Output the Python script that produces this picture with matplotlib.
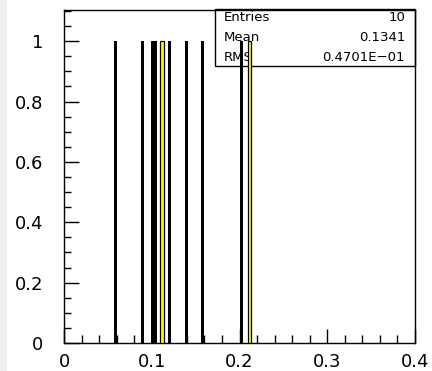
import matplotlib
matplotlib.use("Agg")
import matplotlib.pyplot as plt
from matplotlib.patches import Rectangle
from matplotlib.ticker import MultipleLocator

# Data
bin_centers = [0.0586, 0.0895, 0.1010, 0.1047, 0.1114, 0.1200, 0.1400, 0.1574, 0.2023, 0.2114]
bin_counts = [1, 1, 1, 1, 1, 1, 1, 1, 1, 1]
highlighted = [False, False, False, False, True, False, False, False, False, True]

stats_labels = ["Entries", "Mean", "RMS"]
stats_values = ["10", "0.1341", "0.4701E\u221201"]

x_ticks = [0, 0.1, 0.2, 0.3, 0.4]
x_tick_labels = ["0", "0.1", "0.2", "0.3", "0.4"]
y_ticks = [0, 0.2, 0.4, 0.6, 0.8, 1.0]
y_tick_labels = ["0", "0.2", "0.4", "0.6", "0.8", "1"]

plt.rcParams['font.family'] = ['DejaVu Sans']

W, H = 432, 371
fig = plt.figure(figsize=(W / 100, H / 100), dpi=100)
fig.patch.set_facecolor("white")
# light grey strip on the left edge
fig.patches.append(Rectangle((0, 0), 7 / W, 1, transform=fig.transFigure,
                             facecolor="#efeeec", edgecolor="none", zorder=0))

ax = fig.add_axes([64 / W, (H - 343) / H, (415 - 64) / W, (343 - 9.5) / H])

for c, n, hl in zip(bin_centers, bin_counts, highlighted):
    if hl:
        ax.bar(c, n, width=0.0042, color="#ffff00", edgecolor="black",
               linewidth=0.9, zorder=4)
    else:
        ax.bar(c, n, width=0.0036, color="black", edgecolor="none", zorder=3)

ax.set_xlim(0, 0.4)
ax.set_ylim(0, 1.105)

ax.set_xticks(x_ticks)
ax.set_xticklabels(x_tick_labels)
ax.set_yticks(y_ticks)
ax.set_yticklabels(y_tick_labels)
ax.xaxis.set_minor_locator(MultipleLocator(0.02))
ax.yaxis.set_minor_locator(MultipleLocator(0.05))

ax.tick_params(axis="x", which="major", direction="in", length=10, width=1.0,
               labelsize=13, pad=7, top=False)
ax.tick_params(axis="x", which="minor", direction="in", length=5.8, width=1.0, top=False)
ax.tick_params(axis="y", which="major", direction="in", length=10.5, width=1.0,
               labelsize=13, pad=15, right=False)
ax.tick_params(axis="y", which="minor", direction="in", length=5, width=1.0, right=False)

for s in ax.spines.values():
    s.set_linewidth(1.0)
    s.set_color("black")

# stats box (drawn beneath the bars, as in the reference)
bx0, bx1 = 215 / W, 415 / W
by1, by0 = (H - 9.5) / H, (H - 65.7) / H
ax.add_patch(Rectangle((bx0, by0), bx1 - bx0, by1 - by0, transform=fig.transFigure,
                       facecolor="white", edgecolor="black", linewidth=1.0, zorder=1.5,
                       clip_on=False))
row_y = [17.5, 37.5, 57.5]
for lab, val, yy in zip(stats_labels, stats_values, row_y):
    ax.text(224 / W, (H - yy) / H, lab, ha="left", va="center", fontsize=9.5,
            transform=fig.transFigure, zorder=2)
    ax.text(405 / W, (H - yy) / H, val, ha="right", va="center", fontsize=9.5,
            transform=fig.transFigure, zorder=2)

fig.savefig("out.png", dpi=100, facecolor=fig.get_facecolor())
